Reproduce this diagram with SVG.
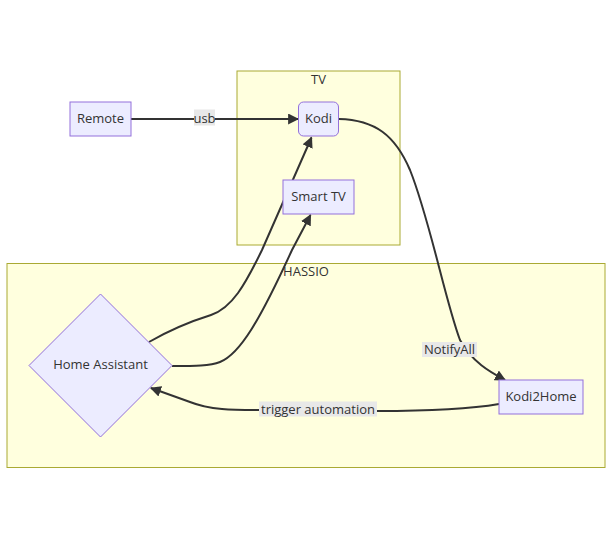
<svg xmlns="http://www.w3.org/2000/svg" width="612" height="539" viewBox="0 0 612 539">
<style>
text{font-family:"Open Sans","Liberation Sans",sans-serif;font-size:13px;fill:#333;text-anchor:middle;dominant-baseline:central}
.cluster{fill:#ffffde;stroke:#aaaa33;stroke-width:1}
.node{fill:#ececff;stroke:#9370db;stroke-width:1}
.edge{fill:none;stroke:#333;stroke-width:2}
.lbl{fill:#e8e8e8}
</style>
<defs>
<marker id="arr" viewBox="0 0 10 10" refX="9" refY="5" markerWidth="11" markerHeight="11" markerUnits="userSpaceOnUse" orient="auto">
<path d="M0,0L10,5L0,10z" fill="#333"/>
</marker>
</defs>
<rect width="612" height="539" fill="#fff"/>
<g id="cluster-HASSIO">
<rect class="cluster" x="7" y="263.5" width="598" height="204"/>
<text x="306" y="271">HASSIO</text>
</g>
<g id="cluster-TV">
<rect class="cluster" x="237" y="71" width="163" height="174"/>
<text x="318.5" y="79">TV</text>
</g>
<g id="edges">
<path class="edge" d="M131,119L298,119" marker-end="url(#arr)"/>
<path class="edge" d="M149,342C175,327 195,320 211,315C232,308 245,285 262,250L311.5,137.5" marker-end="url(#arr)"/>
<path class="edge" d="M172,366C195,366 210,366 220,362C240,354 260,320 292,250L310.5,215" marker-end="url(#arr)"/>
<path class="edge" d="M339,119C375,120 395,135 410,170C430,220 445,300 460,340C472,362 490,372 505,380" marker-end="url(#arr)"/>
<path class="edge" d="M499,404C470,409 430,411 377,411L260,410C232,410 210,410 190,402L151,388" marker-end="url(#arr)"/>
<rect class="lbl" x="194" y="109.5" width="21" height="16"/>
<text x="204.5" y="117.5">usb</text>
<rect class="lbl" x="422" y="342" width="55" height="15"/>
<text x="449.5" y="348.5">NotifyAll</text>
<rect class="lbl" x="259" y="401.5" width="118" height="15"/>
<text x="318" y="408.5">trigger automation</text>
</g>
<g id="node-Remote">
<rect class="node" x="70" y="102" width="61" height="34"/>
<text x="100.5" y="118">Remote</text>
</g>
<g id="node-Kodi">
<rect class="node" x="298.5" y="102" width="40" height="34" rx="5"/>
<text x="318.5" y="118">Kodi</text>
</g>
<g id="node-SmartTV">
<rect class="node" x="283" y="180" width="71" height="34"/>
<text x="318.5" y="196">Smart TV</text>
</g>
<g id="node-HomeAssistant">
<polygon class="node" points="100.5,294 172,365.5 100.5,437 29,365.5"/>
<text x="100.5" y="363.5">Home Assistant</text>
</g>
<g id="node-Kodi2Home">
<rect class="node" x="499" y="380" width="84" height="34"/>
<text x="541" y="395.5">Kodi2Home</text>
</g>
</svg>
